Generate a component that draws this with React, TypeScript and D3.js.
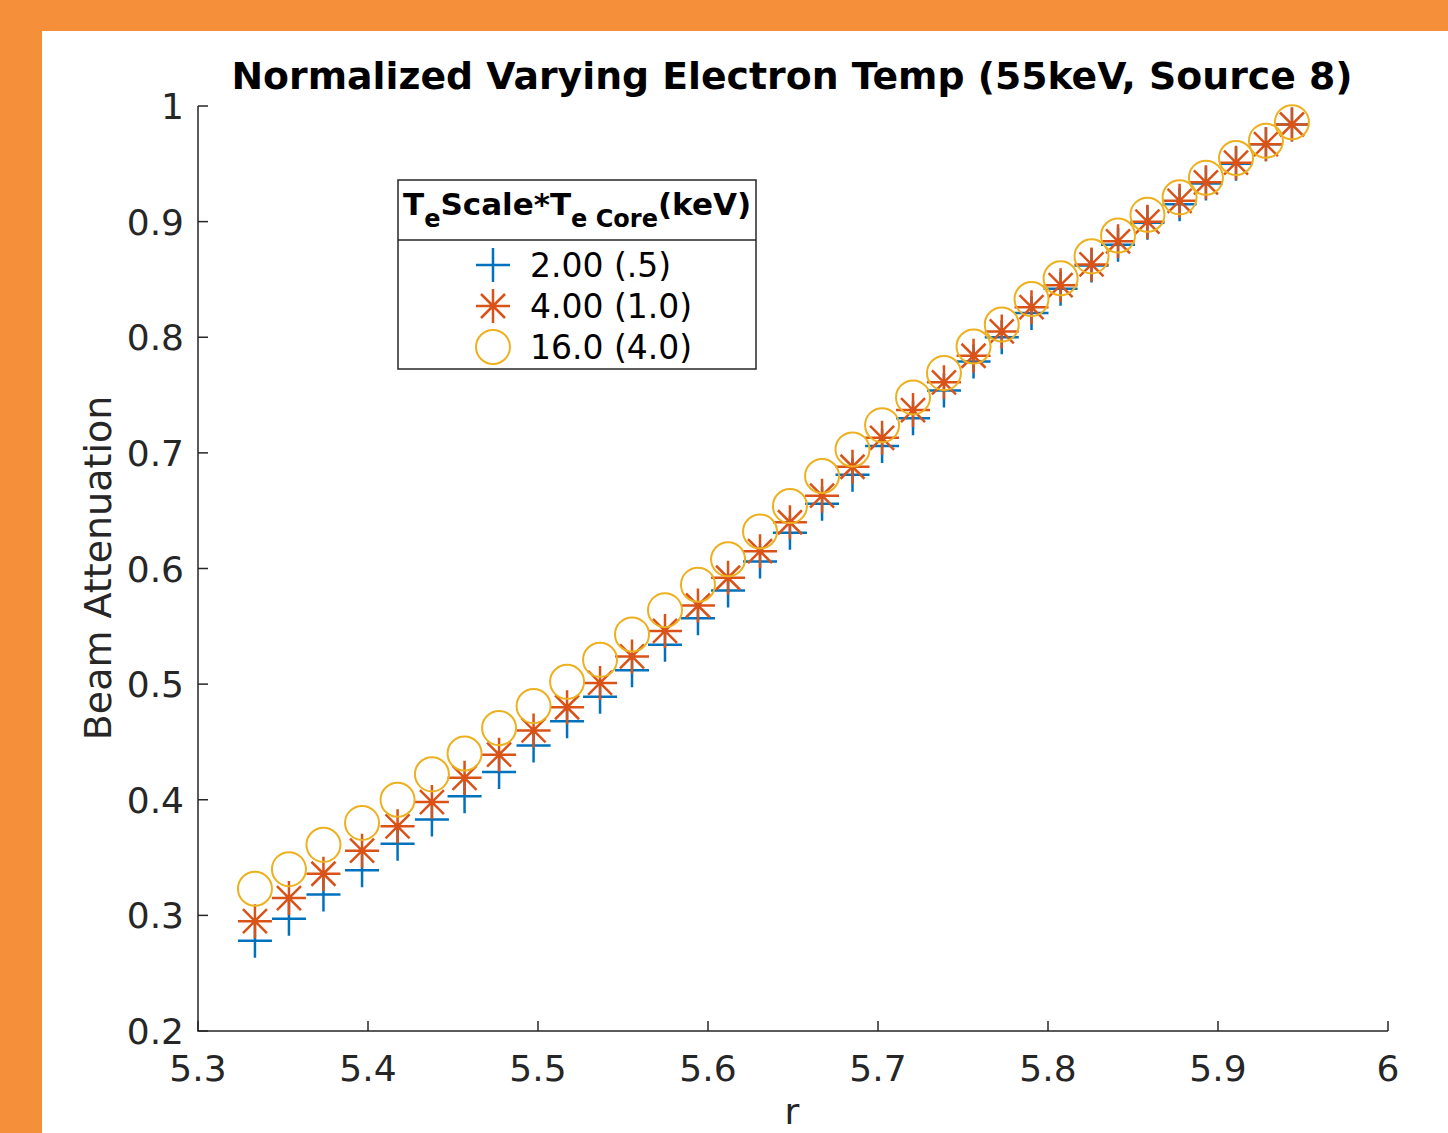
import React from "react";
import * as d3 from "d3";

const rValues = [
  5.3335, 5.3535, 5.3738, 5.3965, 5.4174, 5.4376, 5.4568, 5.4771, 5.4974, 5.5171,
  5.5365, 5.5553, 5.5747, 5.5941, 5.6118, 5.6306, 5.6482, 5.6671, 5.685, 5.7024,
  5.7206, 5.7388, 5.7562, 5.7728, 5.7903, 5.8074, 5.8256, 5.8412, 5.8585, 5.8774,
  5.8929, 5.9106, 5.9282, 5.9435,
];
const attenTe2 = [
  0.278, 0.297, 0.318, 0.339, 0.362, 0.383, 0.403, 0.424, 0.447, 0.468,
  0.489, 0.512, 0.534, 0.557, 0.581, 0.606, 0.631, 0.656, 0.681, 0.706,
  0.73, 0.754, 0.779, 0.8, 0.821, 0.842, 0.862, 0.88, 0.899, 0.915,
  0.933, 0.95, 0.967, 0.984,
];
const attenTe4 = [
  0.295, 0.315, 0.336, 0.356, 0.377, 0.398, 0.419, 0.439, 0.46, 0.48,
  0.501, 0.524, 0.546, 0.568, 0.592, 0.615, 0.64, 0.663, 0.688, 0.713,
  0.737, 0.761, 0.784, 0.805, 0.826, 0.845, 0.863, 0.883, 0.9, 0.918,
  0.934, 0.951, 0.967, 0.984,
];
const attenTe16 = [
  0.323, 0.34, 0.361, 0.38, 0.4, 0.422, 0.44, 0.462, 0.481, 0.502,
  0.521, 0.543, 0.564, 0.586, 0.608, 0.632, 0.654, 0.68, 0.703, 0.724,
  0.748, 0.769, 0.792, 0.811, 0.833, 0.851, 0.87, 0.888, 0.906, 0.921,
  0.938, 0.955, 0.97, 0.986,
];
const xTicks = [5.3, 5.4, 5.5, 5.6, 5.7, 5.8, 5.9, 6];
const yTicks = [0.2, 0.3, 0.4, 0.5, 0.6, 0.7, 0.8, 0.9, 1];
const seriesLabels = ["2.00 (.5)", "4.00 (1.0)", "16.0 (4.0)"];
const seriesColors = ["#0072BD", "#D95319", "#EDB120"];
const seriesMarkers = ["plus", "star", "circle"];
const titleText = "Normalized Varying Electron Temp (55keV, Source 8)";

const FONT = "'DejaVu Sans', 'Liberation Sans', sans-serif";
const AXIS = "#262626";

function Marker({ kind, cx, cy, color }: { kind: string; cx: number; cy: number; color: string }) {
  const a = 17;
  const d = 12;
  if (kind === "circle") {
    return <circle cx={cx} cy={cy} r={17} fill="none" stroke={color} strokeWidth={2} />;
  }
  let p = `M${cx - a},${cy}H${cx + a}M${cx},${cy - a}V${cy + a}`;
  if (kind === "star") {
    p += `M${cx - d},${cy - d}L${cx + d},${cy + d}M${cx - d},${cy + d}L${cx + d},${cy - d}`;
  }
  return <path d={p} fill="none" stroke={color} strokeWidth={2.5} />;
}

export default function App() {
  const W = 1448;
  const H = 1133;
  const x = d3.scaleLinear().domain([5.3, 6]).range([198, 1388]);
  const y = d3.scaleLinear().domain([0.2, 1]).range([1031, 106]);
  const series = [attenTe2, attenTe4, attenTe16];
  const fmt = (v: number) => String(+v.toFixed(1));

  return (
    <svg
      width={W}
      height={H}
      viewBox={`0 0 ${W} ${H}`}
      style={{ position: "absolute", left: 0, top: 0, display: "block" }}
      fontFamily={FONT}
    >
      <rect x={0} y={0} width={W} height={H} fill="#F58F3A" />
      <rect x={42} y={31} width={W - 42} height={H - 31} fill="#ffffff" />

      {/* axes */}
      <path
        d={`M${x(5.3)},${y(1)}V${y(0.2)}H${x(6)}`}
        fill="none"
        stroke={AXIS}
        strokeWidth={1.5}
      />
      {xTicks.map((t) => (
        <g key={`xt${t}`}>
          <line x1={x(t)} x2={x(t)} y1={y(0.2)} y2={y(0.2) - 10} stroke={AXIS} strokeWidth={1.5} />
          <text x={x(t)} y={1081} textAnchor="middle" fontSize={36} fill={AXIS}>
            {fmt(t)}
          </text>
        </g>
      ))}
      {yTicks.map((t) => (
        <g key={`yt${t}`}>
          <line x1={x(5.3)} x2={x(5.3) + 10} y1={y(t)} y2={y(t)} stroke={AXIS} strokeWidth={1.5} />
          <text x={184} y={y(t) + 13} textAnchor="end" fontSize={36} fill={AXIS}>
            {fmt(t)}
          </text>
        </g>
      ))}

      {/* axis labels */}
      <text x={792} y={1124} textAnchor="middle" fontSize={36} fill={AXIS}>
        r
      </text>
      <text
        transform={`translate(111,568) rotate(-90)`}
        textAnchor="middle"
        fontSize={38}
        fill={AXIS}
      >
        Beam Attenuation
      </text>

      {/* title */}
      <text
        x={792}
        y={89}
        textAnchor="middle"
        fontSize={38}
        fontWeight="bold"
        fill="#000"
        textLength={1121}
        lengthAdjust="spacingAndGlyphs"
      >
        {titleText}
      </text>

      {/* data */}
      {series.map((vals, si) => (
        <g key={`s${si}`}>
          {vals.map((v, i) => (
            <Marker
              key={i}
              kind={seriesMarkers[si]}
              cx={x(rValues[i])}
              cy={y(v)}
              color={seriesColors[si]}
            />
          ))}
        </g>
      ))}

      {/* legend */}
      <rect x={398} y={180} width={358} height={189} fill="#ffffff" stroke="#262626" strokeWidth={1.5} />
      <line x1={398} x2={756} y1={240} y2={240} stroke="#262626" strokeWidth={1.5} />
      <text x={403} y={215} fontSize={31} fontWeight="bold" fill="#000">
        <tspan>T</tspan>
        <tspan dy={12} fontSize={24}>e</tspan>
        <tspan dy={-12}>Scale*T</tspan>
        <tspan dy={12} fontSize={24}>e Core</tspan>
        <tspan dy={-12}>(keV)</tspan>
      </text>
      {seriesLabels.map((lab, i) => (
        <g key={`lg${i}`}>
          <Marker kind={seriesMarkers[i]} cx={493} cy={265 + i * 41} color={seriesColors[i]} />
          <text x={530} y={265 + i * 41 + 12} fontSize={33} fill="#000">
            {lab}
          </text>
        </g>
      ))}
    </svg>
  );
}
